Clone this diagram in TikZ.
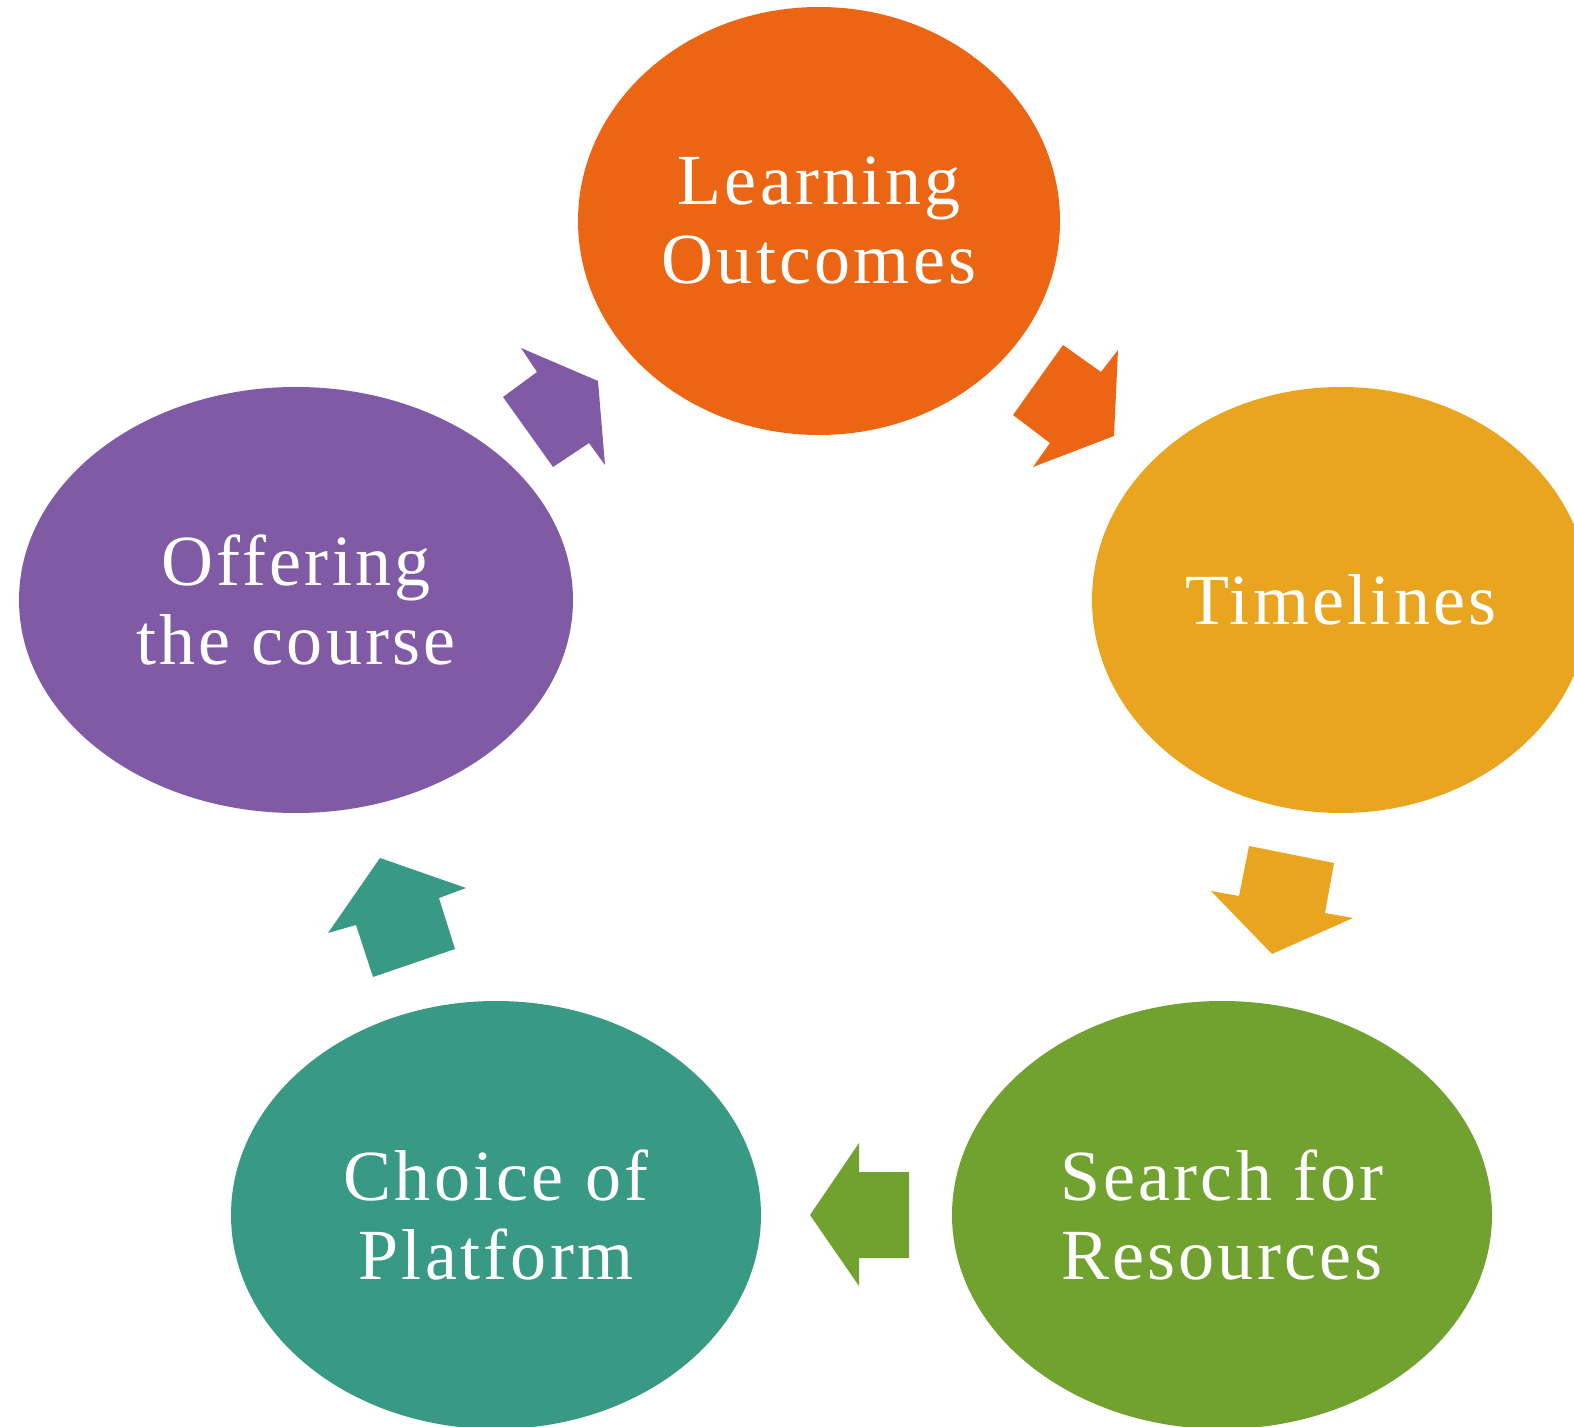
\documentclass[tikz,border=0pt]{standalone}
\usepackage{fontspec}
\setmainfont{Liberation Serif}[LetterSpace=4.5]
\usetikzlibrary{shapes.geometric}

\definecolor{outcomesorange}{HTML}{EC6512}
\definecolor{timelinesyellow}{HTML}{E9A520}
\definecolor{resourcesgreen}{HTML}{71A230}
\definecolor{platformteal}{HTML}{389985}
\definecolor{offeringpurple}{HTML}{805AA5}

\tikzset{
  stage/.style={ellipse, fill=#1, text=white, align=center, inner sep=0pt,
    font=\fontsize{36}{39.5}\selectfont},
}

\begin{document}
\begin{tikzpicture}[x=0.5pt, y=-0.5pt]
  \useasboundingbox (0,0) rectangle (1574,1427);

  % The five stages of the cycle
  \node[stage=outcomesorange, minimum width=241pt, minimum height=214pt] (outcomes) at (819,221) {Learning\\Outcomes};
  \node[stage=timelinesyellow, minimum width=249pt, minimum height=213pt] (timelines) at (1341,600) {Timelines};
  \node[stage=resourcesgreen, minimum width=270pt, minimum height=214pt] (resources) at (1222,1215) {Search for\\Resources};
  \node[stage=platformteal, minimum width=265pt, minimum height=214pt] (platform) at (496,1215) {Choice of\\Platform};
  \node[stage=offeringpurple, minimum width=277pt, minimum height=213pt] (offering) at (296,600) {Offering\\the course};

  % Block arrows between the stages
  \fill[outcomesorange] (1013,415) -- (1063,345) -- (1101,372) -- (1118,350) -- (1114,436) -- (1033,467) -- (1050,443) -- cycle;
  \fill[timelinesyellow] (1249,846) -- (1334,863) -- (1325,913) -- (1353,918) -- (1272,954) -- (1211,891) -- (1239,896) -- cycle;
  \fill[resourcesgreen] (909,1172) -- (909,1258) -- (859,1258) -- (859,1286) -- (810,1215) -- (859,1143) -- (859,1172) -- cycle;
  \fill[platformteal] (455,949) -- (373,977) -- (356,925) -- (328,933) -- (380,858) -- (466,888) -- (439,898) -- cycle;
  \fill[offeringpurple] (553,467) -- (503,397) -- (537,372) -- (521,348) -- (598,381) -- (605,465) -- (589,443) -- cycle;
\end{tikzpicture}
\end{document}
